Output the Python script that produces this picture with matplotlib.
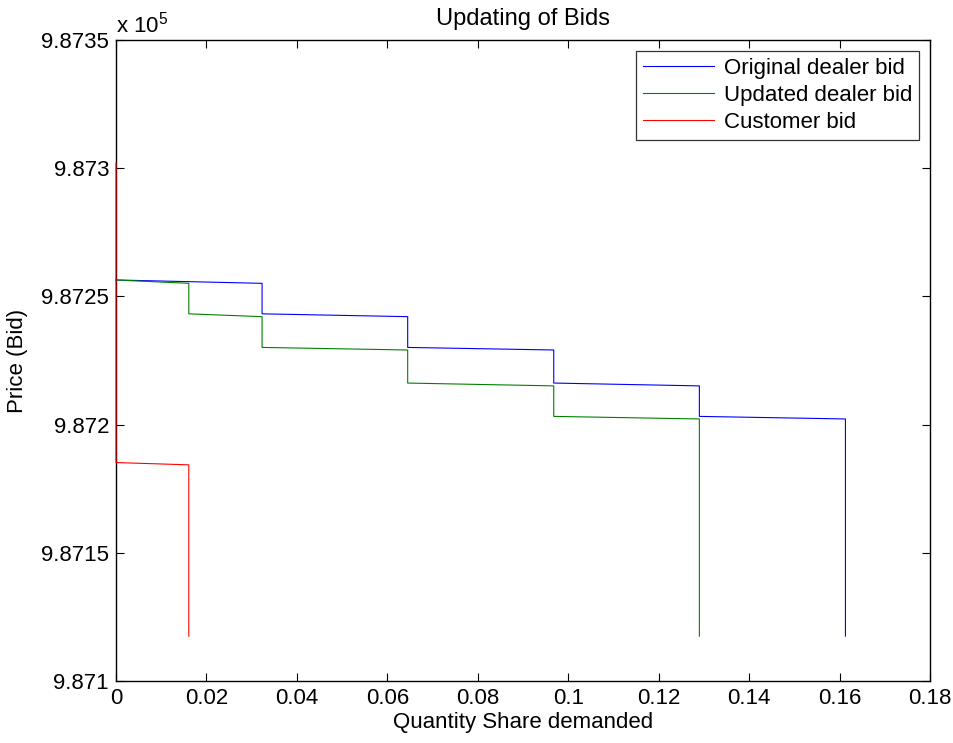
import matplotlib
matplotlib.use("Agg")
import matplotlib.pyplot as plt
from matplotlib.ticker import FuncFormatter, MultipleLocator

plt.rcParams['font.family'] = ['Liberation Sans', 'DejaVu Sans']
plt.rcParams['mathtext.fontset'] = 'custom'
plt.rcParams['mathtext.rm'] = 'Liberation Sans'
plt.rcParams['mathtext.it'] = 'Liberation Sans'

# Data (quantity share, price)
blue_x = [0, 0.0323, 0.0323, 0.0645, 0.0645, 0.0968, 0.0968, 0.1290, 0.1290, 0.1613, 0.1613]
blue_y = [987256.4, 987255.1, 987243.2, 987242.1, 987230.1, 987229.1,
          987216.2, 987215.1, 987203.2, 987202.2, 987117.5]

green_x = [0, 0.0161, 0.0161, 0.0323, 0.0323, 0.0645, 0.0645, 0.0968, 0.0968, 0.1290, 0.1290]
green_y = [987256.4, 987255.1, 987243.2, 987242.1, 987230.1, 987229.1,
           987216.2, 987215.1, 987203.2, 987202.2, 987117.5]

red_x = [0, 0, 0.0161, 0.0161]
red_y = [987302.0, 987185.2, 987184.3, 987117.5]

labels = ['Original dealer bid', 'Updated dealer bid', 'Customer bid']
colors = ['#0000ff', '#008000', '#ff0000']

W, H = 954, 743
fig = plt.figure(figsize=(W / 100, H / 100), dpi=100)
ax = fig.add_axes([116 / W, 1 - 681 / H, (930 - 116) / W, (681 - 40) / H])

ax.plot(blue_x, blue_y, color=colors[0], lw=0.8, label=labels[0], zorder=3, clip_on=False)
ax.plot(green_x, green_y, color=colors[1], lw=0.8, label=labels[1], zorder=3, clip_on=False)
ax.plot(red_x, red_y, color=colors[2], lw=0.8, label=labels[2], zorder=3, clip_on=False)

ax.set_xlim(0, 0.18)
ax.set_ylim(987100, 987350)
ax.xaxis.set_major_locator(MultipleLocator(0.02))
ax.yaxis.set_major_locator(MultipleLocator(50))
ax.xaxis.set_major_formatter(FuncFormatter(lambda v, p: '%g' % round(v, 4)))
ax.yaxis.set_major_formatter(FuncFormatter(lambda v, p: '%g' % round(v / 1e5, 6)))

fs = 16
ax.tick_params(direction='in', length=6, width=0.8, top=True, right=True,
               labelsize=fs, pad=5, colors='black')
for s in ax.spines.values():
    s.set_linewidth(1.0)

ax.set_title('Updating of Bids', fontsize=17, pad=11)
ax.set_xlabel('Quantity Share demanded', fontsize=fs, labelpad=2)
ax.set_ylabel('Price (Bid)', fontsize=fs, labelpad=9.5)
ax.text(0, 1.004, r'x 10$^{5}$', transform=ax.transAxes, fontsize=fs,
        ha='left', va='bottom')

leg = ax.legend(loc='upper right', fontsize=fs, frameon=True, fancybox=False,
                edgecolor='black', handlelength=3.2, borderaxespad=0.5,
                labelspacing=0.28, handletextpad=0.45, borderpad=0.3)
leg.get_frame().set_linewidth(0.9)
for line in leg.get_lines():
    line.set_linewidth(0.8)

fig.savefig('out.png', dpi=100)
